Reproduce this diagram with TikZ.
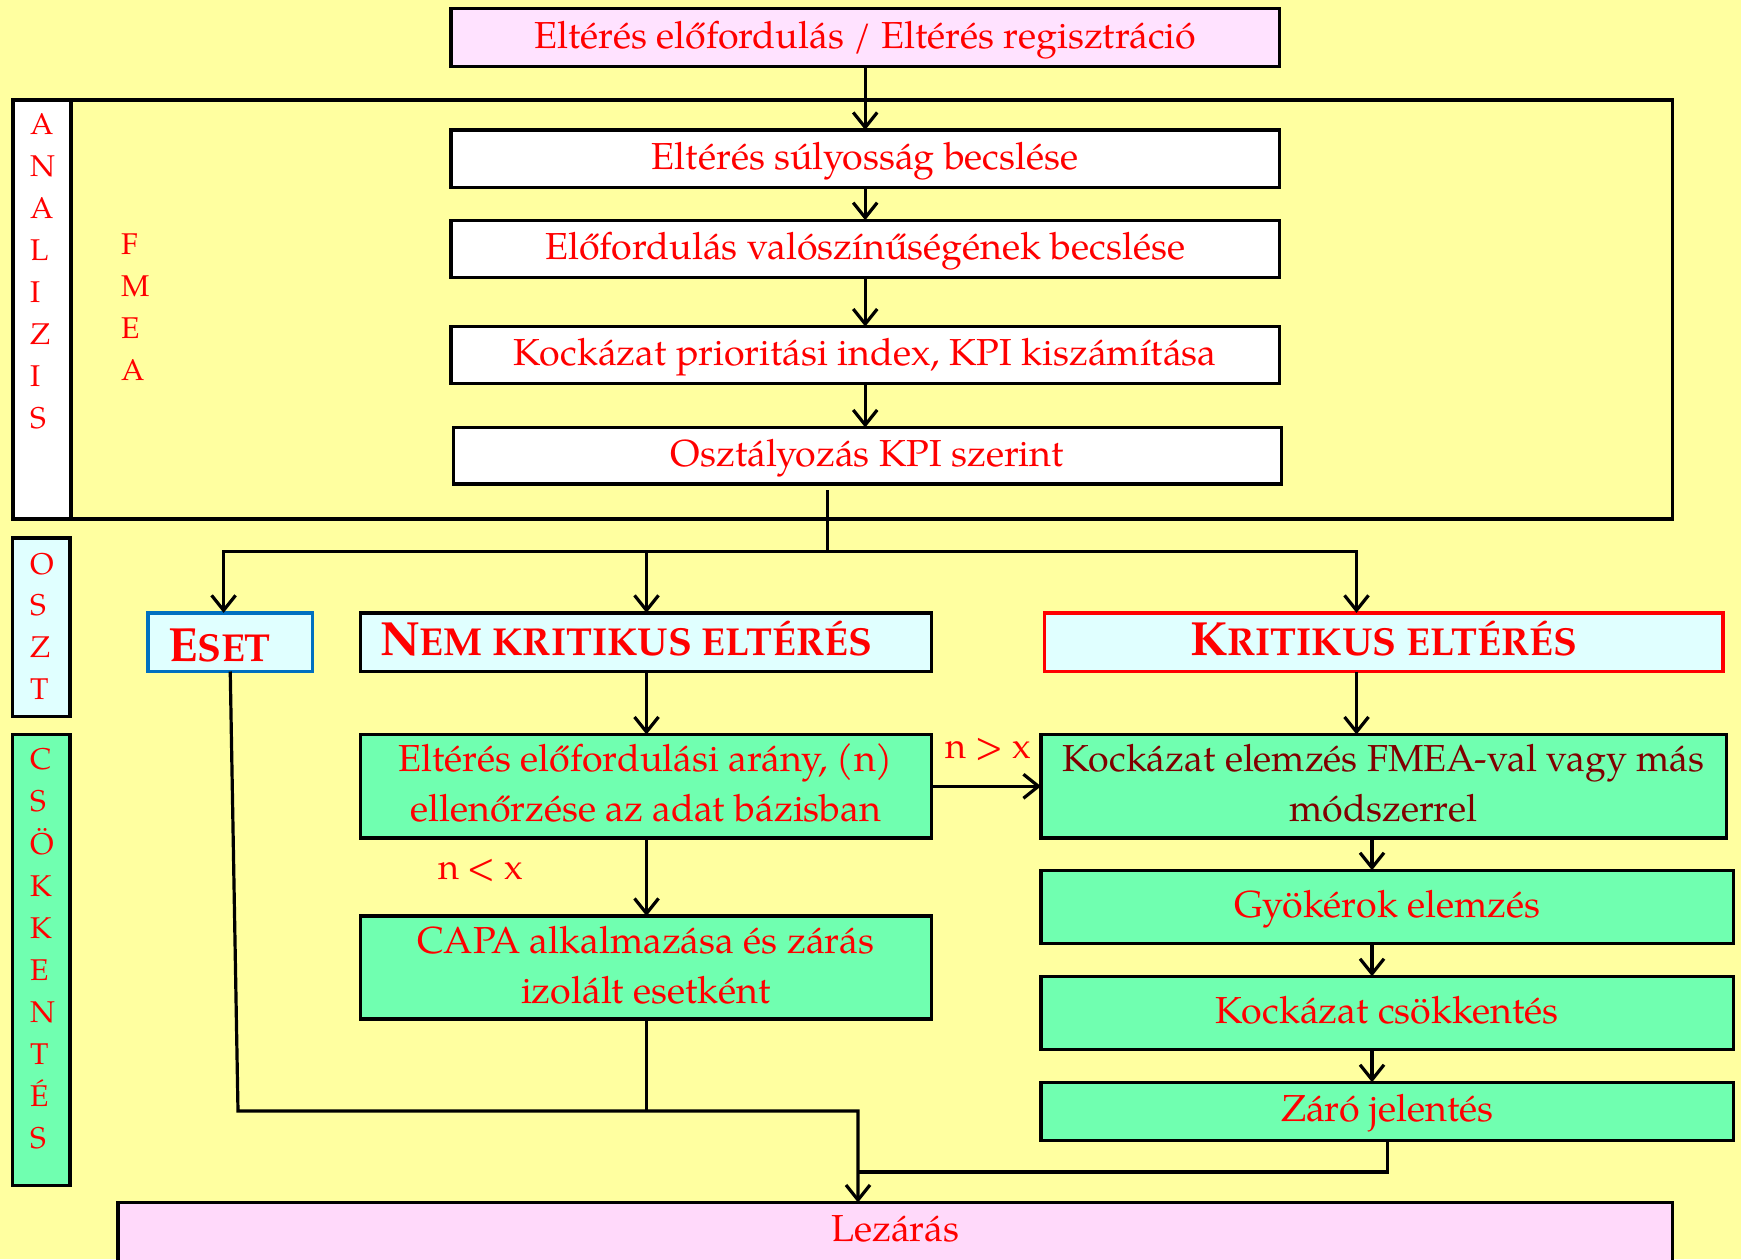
\documentclass[tikz,border=0pt]{standalone}
\usepackage{fontspec}
\setmainfont{texgyrepagella}[Extension=.otf, UprightFont=*-regular, BoldFont=*-bold, ItalicFont=*-italic, BoldItalicFont=*-bolditalic]
\usetikzlibrary{arrows.meta}

\definecolor{bgyellow}{HTML}{FFFFA0}
\definecolor{toppink}{HTML}{FFE2FF}
\definecolor{lezpink}{HTML}{FFD9FA}
\definecolor{boxcyan}{HTML}{E0FFFF}
\definecolor{boxgreen}{HTML}{70FFB0}
\definecolor{boxblue}{HTML}{0070C0}
\definecolor{tred}{HTML}{FF0000}
\definecolor{tdark}{HTML}{800000}

\newcommand\boxfont{\fontsize{37.6}{50}\selectfont}
\newcommand\letfont{\fontsize{30}{30}\selectfont}
\newcommand\labfont{\fontsize{36}{36}\selectfont}
\newcommand\capbig[1]{{\fontsize{48}{48}\selectfont #1}}
\newcommand\capsmall[1]{{\fontsize{39}{39}\selectfont #1}}
% one line of box text: baseline 10.5pt below the box centre
\newcommand\oneline[1]{\rule[-5pt]{0pt}{31pt}\smash{#1}}
% two lines of box text, 50pt apart
\newcommand\twolines[2]{\rule{0pt}{26pt}\smash{#1}\\\smash{#2}\rule[-5pt]{0pt}{5pt}}

\begin{document}
\begin{tikzpicture}[x=1pt,y=-1pt,
  box/.style={draw=black, line width=3.4pt, inner sep=0pt, outer sep=0pt,
              align=center, font=\boxfont, text=tred},
  wbox/.style={box, fill=white, minimum width=828.6pt},
  gbox/.style={box, fill=boxgreen},
  cbox/.style={box, fill=boxcyan},
  lbl/.style={inner sep=0pt, outer sep=0pt, anchor=base west, text=tred},
  vlet/.style={lbl, font=\letfont},
  head/.style={lbl, font=\bfseries},
  conn/.style={line width=3.2pt},
  arr/.style={conn, -{Straight Barb[length=15pt,width=24pt]}},
]
\useasboundingbox (0,0) rectangle (1741,1259);
\clip (0,0) rectangle (1741,1259);
\fill[bgyellow] (0,0) rectangle (1741,1259);

% analysis frame with its side column
\draw[line width=3.6pt, fill=white] (13,99.7) rectangle (71.2,519.2);
\draw[line width=3.6pt] (13,99.7) rectangle (1672.3,519.2);

% main column
\node[box, fill=toppink, minimum width=828.6pt, minimum height=58pt] (top) at (865.2,37.5)
  {\oneline{Eltérés előfordulás / Eltérés regisztráció}};
\node[wbox, minimum height=57.2pt] (b1) at (865.2,158.6) {\oneline{Eltérés súlyosság becslése}};
\node[wbox, minimum height=57.3pt] (b2) at (865.2,248.85) {\oneline{Előfordulás valószínűségének becslése}};
\node[wbox, minimum height=56.9pt] (b3) at (865.2,355) {\oneline{Kockázat prioritási index, KPI kiszámítása}};
\node[wbox, minimum width=828.3pt, minimum height=56.6pt] (b4) at (867.35,455.8) {\oneline{Osztályozás KPI szerint}};

% side columns
\node[cbox, minimum width=57.5pt, minimum height=178.5pt] (oszt) at (41.25,627.25) {};
\node[gbox, minimum width=57.5pt, minimum height=451pt] (csok) at (41.25,960) {};

\foreach \l [count=\i from 0] in {A,N,A,L,I,Z,I,S}
  \node[vlet] (an\i) at (30,134.3+42.07*\i) {\l};
\foreach \l [count=\i from 0] in {F,M,E,A}
  \node[vlet] (fm\i) at (121,254.9+41.9*\i) {\l};
\foreach \l [count=\i from 0] in {O,S,Z,T}
  \node[vlet] (os\i) at (30,574.2+41.6*\i) {\l};
\foreach \l [count=\i from 0] in {C,S,Ö,K,K,E,N,T,É,S}
  \node[vlet] (cs\i) at (30,769.8+42.13*\i) {\l};

% category boxes
\node[cbox, draw=boxblue, minimum width=164.3pt, minimum height=58.6pt] (eset) at (230.25,642.2) {};
\node[cbox, minimum width=571.3pt, minimum height=58.6pt] (nem) at (645.85,642.2) {};
\node[cbox, draw=red, minimum width=678.7pt, minimum height=58.6pt] (krit) at (1383.55,642.2) {};
\node[head] (esett) at (168,661.7) {\capbig{E}\capsmall{SET}};
\node[head] (nemt) at (380,655) {\capbig{N}\capsmall{EM KRITIKUS ELTÉRÉS}};
\node[head, anchor=base] (kritt) at (1383.5,655) {\capbig{K}\capsmall{RITIKUS ELTÉRÉS}};

% non-critical branch
\node[gbox, minimum width=571.3pt, minimum height=103.5pt] (g1) at (645.85,786.25)
  {\twolines{Eltérés előfordulási arány, (n)}{ellenőrzése az adat bázisban}};
\node[gbox, minimum width=571.3pt, minimum height=103pt] (capa) at (645.85,967.5)
  {\twolines{CAPA alkalmazása és zárás}{izolált esetként}};

% critical branch
\node[gbox, text=tdark, minimum width=685.2pt, minimum height=103.5pt] (k1) at (1383.6,786.25)
  {\twolines{Kockázat elemzés FMEA-val vagy más}{módszerrel}};
\node[gbox, minimum width=692.5pt, minimum height=73.2pt] (gy) at (1387.25,906.9) {\oneline{Gyökérok elemzés}};
\node[gbox, minimum width=692.5pt, minimum height=73.4pt] (kcs) at (1387.25,1013) {\oneline{Kockázat csökkentés}};
\node[gbox, minimum width=692.5pt, minimum height=58.2pt] (zaro) at (1387.25,1111.4) {\oneline{Záró jelentés}};

% closing box
\node[box, fill=lezpink, minimum width=1554.7pt, minimum height=86pt] (lez) at (895.15,1245.5) {};
\node[lbl, anchor=base, font=\boxfont] (lezt) at (895.15,1241) {Lezárás};

% condition labels
\node[lbl, font=\labfont] (gt) at (945.6,758) {n > x};
\node[lbl, font=\labfont] (lt) at (438,879) {n < x};

% connectors
\coordinate (split) at (827.5,551.6);
\coordinate (eTop) at (223.6,551.6);
\coordinate (nTop) at (646.5,551.6);
\coordinate (kTop) at (1356.5,551.6);
\coordinate (kx) at (1372,0);
\coordinate (ej) at (238,1111);
\coordinate (mj) at (858,1111);
\coordinate (zj) at (858,1172);

\draw[arr] (top) -- (b1);
\draw[arr] (b1) -- (b2);
\draw[arr] (b2) -- (b3);
\draw[arr] (b3.south) -- (b3.south |- b4.north);
\draw[conn] (b4.south -| split) ++(0,6) -- (split);
\draw[arr] (split) -- (eTop) -- (eTop |- eset.north);
\draw[arr] (split) -- (kTop) -- (kTop |- krit.north);
\draw[arr] (nTop) -- (nTop |- nem.north);
\draw[arr] (nTop |- nem.south) -- (nTop |- g1.north);
\draw[arr] (nTop |- g1.south) -- (nTop |- capa.north);
\draw[arr] (g1.east) -- (k1.west);
\draw[arr] (kTop |- krit.south) -- (kTop |- k1.north);
\draw[arr] (kx |- k1.south) -- (kx |- gy.north);
\draw[arr] (kx |- gy.south) -- (kx |- kcs.north);
\draw[arr] (kx |- kcs.south) -- (kx |- zaro.north);
\draw[arr] (eset.south) -- (ej) -- (mj) -- (mj |- lez.north);
\draw[conn] (nTop |- capa.south) -- (nTop |- mj);
\draw[conn] (zaro.south) -- (zaro.south |- zj) -- (zj);
\end{tikzpicture}
\end{document}
